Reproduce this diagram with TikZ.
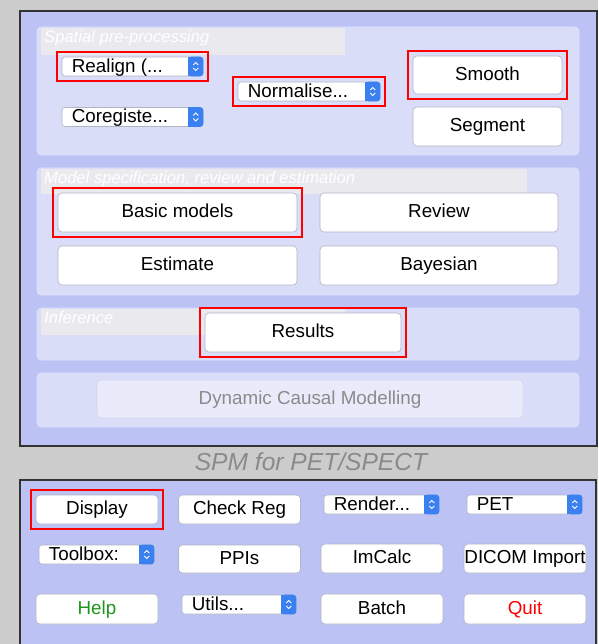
\documentclass[tikz,border=0pt]{standalone}
\usepackage{fontspec}
\setmainfont{Liberation Sans}
\usetikzlibrary{fit}

\definecolor{wingray}{RGB}{204,204,204}
\definecolor{panelblue}{RGB}{188,195,244}
\definecolor{groupblue}{RGB}{218,221,248}
\definecolor{titlegray}{RGB}{234,234,238}
\definecolor{btnline}{RGB}{178,180,196}
\definecolor{popblue}{RGB}{58,128,240}
\definecolor{helpgreen}{RGB}{30,150,30}
\definecolor{dimtext}{RGB}{138,138,138}
\definecolor{dimfill}{RGB}{234,235,250}
\definecolor{dimline}{RGB}{212,214,240}

\newcommand{\btnfont}{\fontsize{18.8}{22}\selectfont}
\newcommand{\grpfont}{\itshape\fontsize{16.6}{18}\selectfont}

\tikzset{
  panel/.style={draw=black!80, line width=1.2pt, fill=panelblue},
  group/.style={draw=white!50!panelblue, fill=groupblue, rounded corners=4pt, line width=0.6pt},
  titlebar/.style={fill=titlegray},
  grouptitle/.style={anchor=base west, inner sep=0pt, text=white, font=\grpfont},
  btn/.style={draw=btnline, fill=white, rounded corners=4pt, line width=0.6pt, inner sep=0pt,
    font=\btnfont, text height=13.7pt, text depth=3.5pt},
  popbox/.style={draw=btnline, fill=white, rounded corners=3pt, line width=0.6pt, inner sep=0pt, minimum height=19},
  poptext/.style={anchor=base west, inner sep=0pt, font=\btnfont},
  redbox/.style={draw=red, line width=2pt, inner sep=5pt},
}

\def \btnh {39}
\def \smallh {29}

% popup menu: name, x, y, width, text
\newcommand{\popmenu}[5]{%
  \node[popbox, minimum width=#4] (#1) at (#2,#3) {};
  \fill[popblue, rounded corners=3pt] ([xshift=-15pt]#1.north east) rectangle (#1.south east);
  \fill[popblue] ([xshift=-15pt]#1.north east) rectangle ([xshift=-8pt]#1.south east);
  \draw[white, line width=0.9pt] ([xshift=-10pt,yshift=1.5pt]#1.east) -- ([xshift=-7.5pt,yshift=4pt]#1.east) -- ([xshift=-5pt,yshift=1.5pt]#1.east);
  \draw[white, line width=0.9pt] ([xshift=-10pt,yshift=-1.5pt]#1.east) -- ([xshift=-7.5pt,yshift=-4pt]#1.east) -- ([xshift=-5pt,yshift=-1.5pt]#1.east);
  \node[poptext] (#1txt) at ([xshift=10pt,yshift=-6pt]#1.west) {#5};
}

\begin{document}
\begin{tikzpicture}[x=1pt, y=-1pt]
\clip (0,0) rectangle (598,644);
\fill[wingray] (0,0) rectangle (598,644);

% main window
\draw[panel] (20,11) rectangle (597,446);

\draw[group] (37,27) rectangle (579,155);
\fill[titlebar] (41,28) rectangle (345,55);
\node[grouptitle] (spatialtitle) at (44,43) {Spatial pre-processing};

\draw[group] (37,168) rectangle (579,295);
\fill[titlebar] (41,169) rectangle (527,194);
\node[grouptitle] (modeltitle) at (44,184) {Model specification, review and estimation};

\draw[group] (37,308) rectangle (579,360);
\fill[titlebar] (41,309) rectangle (345,335);
\node[grouptitle] (inferencetitle) at (44,323) {Inference};

\draw[group] (37,373) rectangle (579,427);

\popmenu{realign}{132.5}{66.5}{141}{Realign (...}
\popmenu{coreg}{132.5}{117}{141}{Coregiste...}
\popmenu{normalise}{309}{91.5}{142}{Normalise...}

\node[btn, minimum width=149, minimum height=38] (smooth) at (487.5,75) {Smooth};
\node[btn, minimum width=149, minimum height=\btnh] (segment) at (487.5,126.5) {Segment};

\node[btn, minimum width=239, minimum height=\btnh] (basic) at (177.5,212.5) {Basic models};
\node[btn, minimum width=238, minimum height=\btnh] (review) at (439,212.5) {Review};
\node[btn, minimum width=239, minimum height=\btnh] (estimate) at (177.5,265.5) {Estimate};
\node[btn, minimum width=238, minimum height=\btnh] (bayesian) at (439,265.5) {Bayesian};

\node[btn, minimum width=196, minimum height=\btnh] (results) at (303,332.5) {Results};

\node[btn, draw=dimline, fill=dimfill, text=dimtext, minimum width=426, minimum height=38] (dcm) at (310,399) {Dynamic Causal Modelling};

\node[redbox, fit=(realign)] (realignmark) {};
\node[redbox, fit=(normalise)] (normalisemark) {};
\node[redbox, fit=(smooth)] (smoothmark) {};
\node[redbox, fit=(basic)] (basicmark) {};
\node[redbox, fit=(results)] (resultsmark) {};

\node[text=dimtext, font=\itshape\fontsize{24.6}{28}\selectfont] (spmtitle) at (311,462) {SPM for PET/SPECT};

% menu window
\draw[panel] (20,480) rectangle (596,700);

\node[btn, minimum width=122, minimum height=\smallh] (display) at (97,509.5) {Display};
\node[btn, minimum width=122, minimum height=\smallh] (checkreg) at (239.5,509.5) {Check Reg};
\popmenu{render}{381.5}{504.5}{115}{Render...}
\popmenu{pet}{524.5}{504.5}{115}{PET}

\popmenu{toolbox}{96.5}{554.5}{115}{Toolbox:}
\node[btn, minimum width=122, minimum height=28] (ppis) at (239.5,559) {PPIs};
\node[btn, minimum width=122, minimum height=\smallh] (imcalc) at (382,558.5) {ImCalc};
\node[btn, minimum width=122, minimum height=\smallh] (dicom) at (525,558.5) {DICOM Import};

\node[btn, text=helpgreen, minimum width=122, minimum height=30] (help) at (97,609) {Help};
\popmenu{utils}{239}{604.5}{114}{Utils...}
\node[btn, minimum width=122, minimum height=30] (batch) at (382,609) {Batch};
\node[btn, text=red, minimum width=122, minimum height=30] (quit) at (525,609) {Quit};

\node[redbox, fit=(display)] (displaymark) {};
\end{tikzpicture}
\end{document}
